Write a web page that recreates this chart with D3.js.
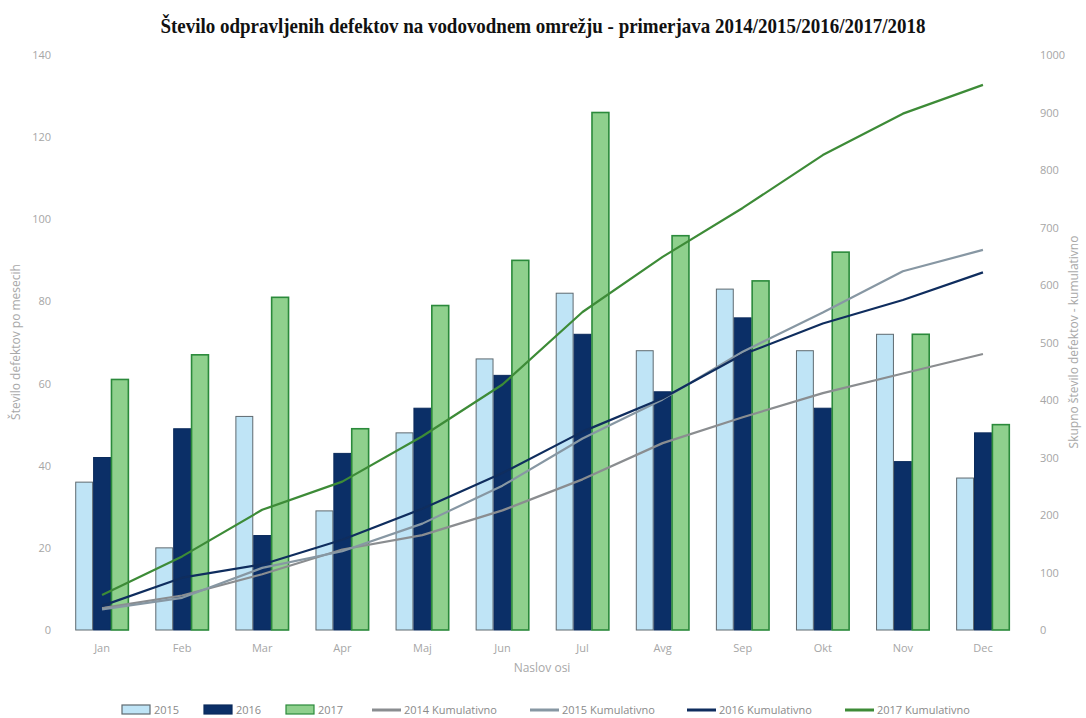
<!DOCTYPE html>
<html>
<head>
<meta charset="utf-8">
<script src="https://cdn.jsdelivr.net/npm/d3@7"></script>
<style>
  body { margin: 0; background: #fff; }
  svg { display: block; }
  .tick-label { font-family: "Open Sans", sans-serif; font-size: 11px; fill: #a6a6a6; }
  .axis-title { font-family: "Open Sans", sans-serif; font-size: 12px; fill: #a8a8a8; }
  .legend-text { font-family: "Open Sans", sans-serif; font-size: 11px; fill: #8a8a8a; }
</style>
</head>
<body>
<script>
// months and series
var months = ["Jan", "Feb", "Mar", "Apr", "Maj", "Jun", "Jul", "Avg", "Sep", "Okt", "Nov", "Dec"];
var barYears = ["2015", "2016", "2017"];
var v2015 = [36, 20, 52, 29, 48, 66, 82, 68, 83, 68, 72, 37];
var v2016 = [42, 49, 23, 43, 54, 62, 72, 58, 76, 54, 41, 48];
var v2017 = [61, 67, 81, 49, 79, 90, 126, 96, 85, 92, 72, 50];
var cum2014 = [38, 60, 97, 140, 165, 208, 262, 325, 370, 412, 446, 480];
var cum2015 = [36, 56, 108, 137, 185, 251, 333, 401, 484, 552, 624, 661];
var cum2016 = [42, 91, 114, 157, 211, 273, 345, 403, 479, 533, 574, 622];
var cum2017 = [61, 128, 209, 258, 337, 427, 553, 649, 734, 826, 898, 948];
var leftTicks = [0, 20, 40, 60, 80, 100, 120, 140];
var rightTicks = [0, 100, 200, 300, 400, 500, 600, 700, 800, 900, 1000];

var width = 1086, height = 718;
var svg = d3.select("body").append("svg").attr("width", width).attr("height", height);

var barFill = { "2015": "#bfe4f6", "2016": "#0b2f67", "2017": "#8fd08d" };
var barStroke = { "2015": "#5f6a70", "2016": "#0b2b5c", "2017": "#2b8a3b" };
var barVals = { "2015": v2015, "2016": v2016, "2017": v2017 };

var lines = [
  { name: "2014 Kumulativno", values: cum2014, color: "#8a8d90" },
  { name: "2015 Kumulativno", values: cum2015, color: "#8797a3" },
  { name: "2016 Kumulativno", values: cum2016, color: "#0f2d5e" },
  { name: "2017 Kumulativno", values: cum2017, color: "#3d8b37" }
];

var x = d3.scaleBand().domain(months).range([62, 1023]).paddingInner(0.33).paddingOuter(0.165);
var xs = d3.scaleBand().domain(barYears).range([0, x.bandwidth()]);
var yL = d3.scaleLinear().domain([0, 140]).range([630, 55]);
var yR = d3.scaleLinear().domain([0, 1000]).range([630, 55]);

// title
svg.append("text")
  .attr("x", 543).attr("y", 33)
  .attr("text-anchor", "middle")
  .attr("textLength", 765)
  .attr("lengthAdjust", "spacingAndGlyphs")
  .style("font-family", "'Liberation Serif', serif")
  .style("font-weight", "bold")
  .style("font-size", "21px")
  .style("fill", "#111")
  .text("Število odpravljenih defektov na vodovodnem omrežju - primerjava 2014/2015/2016/2017/2018");

// left axis
var gl = svg.append("g").attr("transform", "translate(51,0)")
  .call(d3.axisLeft(yL).tickValues(leftTicks).tickSize(0).tickPadding(0));
gl.select(".domain").remove();
gl.selectAll("text").attr("class", "tick-label").attr("fill", null);

// right axis
var gr = svg.append("g").attr("transform", "translate(1040,0)")
  .call(d3.axisRight(yR).tickValues(rightTicks).tickFormat(d3.format("d")).tickSize(0).tickPadding(0));
gr.select(".domain").remove();
gr.selectAll("text").attr("class", "tick-label").attr("fill", null);

// x axis
var gx = svg.append("g").attr("transform", "translate(0,640)")
  .call(d3.axisBottom(x).tickSize(0).tickPadding(4));
gx.select(".domain").remove();
gx.selectAll("text").attr("class", "tick-label").attr("fill", null);

// axis titles
svg.append("text").attr("class", "axis-title")
  .attr("transform", "translate(20,342) rotate(-90)")
  .attr("text-anchor", "middle")
  .text("Število defektov po mesecih");
svg.append("text").attr("class", "axis-title")
  .attr("transform", "translate(1078,342) rotate(-90)")
  .attr("text-anchor", "middle")
  .text("Skupno število defektov - kumulativno");
svg.append("text").attr("class", "axis-title")
  .attr("x", 542).attr("y", 672)
  .attr("text-anchor", "middle")
  .text("Naslov osi");

// bars
var groups = svg.append("g").selectAll("g")
  .data(months)
  .enter().append("g")
  .attr("transform", function(m) { return "translate(" + x(m) + ",0)"; });

groups.selectAll("rect")
  .data(function(m, i) {
    return barYears.map(function(yr) { return { year: yr, value: barVals[yr][i] }; });
  })
  .enter().append("rect")
  .attr("x", function(d) { return xs(d.year) + 0.5; })
  .attr("y", function(d) { return yL(d.value); })
  .attr("width", xs.bandwidth() - 1)
  .attr("height", function(d) { return yL(0) - yL(d.value); })
  .attr("fill", function(d) { return barFill[d.year]; })
  .attr("stroke", function(d) { return barStroke[d.year]; })
  .attr("stroke-width", function(d) { return d.year == "2017" ? 1.6 : 1; });

// cumulative lines
var line = d3.line()
  .x(function(d, i) { return x(months[i]) + x.bandwidth() / 2; })
  .y(function(d) { return yR(d); });

svg.append("g").selectAll("path")
  .data(lines)
  .enter().append("path")
  .attr("d", function(d) { return line(d.values); })
  .attr("fill", "none")
  .attr("stroke", function(d) { return d.color; })
  .attr("stroke-width", 2.2)
  .attr("stroke-linejoin", "round");

// legend
var legendItems = [
  { label: "2015", type: "bar", key: "2015", x: 122 },
  { label: "2016", type: "bar", key: "2016", x: 204 },
  { label: "2017", type: "bar", key: "2017", x: 286 },
  { label: lines[0].name, type: "line", color: lines[0].color, x: 372 },
  { label: lines[1].name, type: "line", color: lines[1].color, x: 530 },
  { label: lines[2].name, type: "line", color: lines[2].color, x: 687 },
  { label: lines[3].name, type: "line", color: lines[3].color, x: 845 }
];
var leg = svg.append("g").selectAll("g")
  .data(legendItems)
  .enter().append("g")
  .attr("transform", function(d) { return "translate(" + d.x + ",710)"; });

leg.filter(function(d) { return d.type == "bar"; })
  .append("rect")
  .attr("x", 0).attr("y", -5).attr("width", 28).attr("height", 9)
  .attr("fill", function(d) { return barFill[d.key]; })
  .attr("stroke", function(d) { return barStroke[d.key]; })
  .attr("stroke-width", 1.2);

leg.filter(function(d) { return d.type == "line"; })
  .append("line")
  .attr("x1", 0).attr("x2", 29).attr("y1", 0).attr("y2", 0)
  .attr("stroke", function(d) { return d.color; })
  .attr("stroke-width", 3);

leg.append("text")
  .attr("class", "legend-text")
  .attr("x", 32).attr("y", 4)
  .text(function(d) { return d.label; });
</script>
</body>
</html>
